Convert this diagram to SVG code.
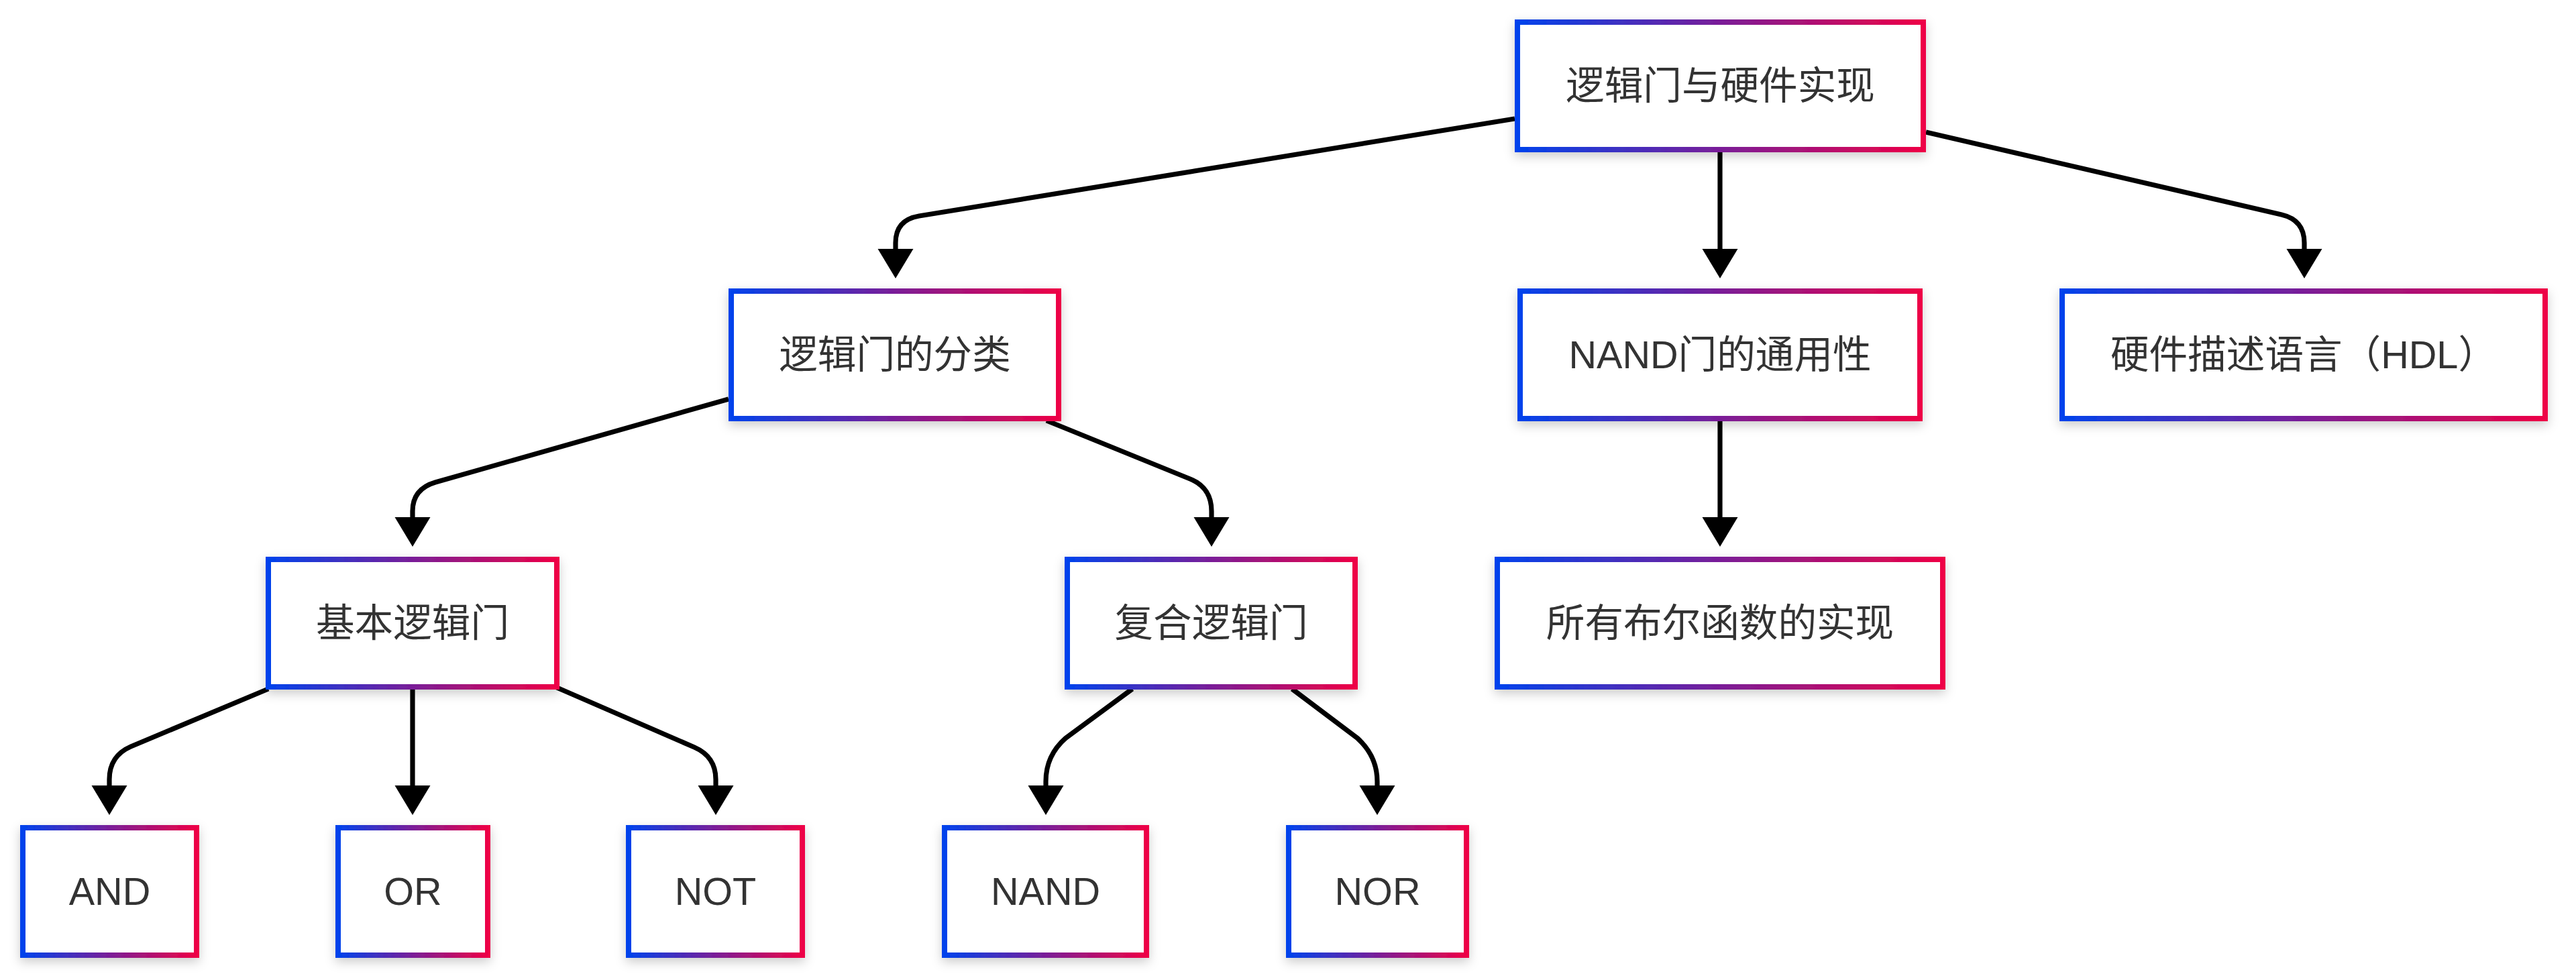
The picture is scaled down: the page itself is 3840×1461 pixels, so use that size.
<svg xmlns="http://www.w3.org/2000/svg" width="3840" height="1461" viewBox="0 0 3840 1461">
<defs>
<linearGradient id="g" x1="0" y1="0" x2="1" y2="0">
<stop offset="0" stop-color="#0043EC"/>
<stop offset="0.5" stop-color="#7A1E98"/>
<stop offset="1" stop-color="#EE0046"/>
</linearGradient>
<filter id="sh" x="-20%" y="-30%" width="140%" height="170%">
<feDropShadow dx="0" dy="6" stdDeviation="8" flood-color="#000" flood-opacity="0.2"/>
</filter>
<marker id="arr" markerUnits="userSpaceOnUse" markerWidth="46" markerHeight="54" refX="2" refY="26.5" orient="auto">
<path d="M0,0 L44,26.5 L0,53 z" fill="#000"/>
</marker>
</defs>
<style>
.n rect{fill:#fff;stroke:url(#g);stroke-width:8;filter:url(#sh)}
.n text{font-family:"Liberation Sans","Noto Sans CJK SC",sans-serif;font-size:57.6px;fill:#333;text-anchor:middle}
.e path{fill:none;stroke:#000;stroke-width:7.2;marker-end:url(#arr)}
</style>
<rect width="3840" height="1461" fill="#fff"/>
<g id="connectors" class="e">
<path d="M2258,177 L1370,322 Q1335,328 1335,362 L1335,373"/>
<path d="M2564,227 L2564,373"/>
<path d="M2871,197 L3401,320 Q3435,328 3435,362 L3435,373"/>
<path d="M1086,595 L649,719 Q615,729 615,762 L615,773"/>
<path d="M1560,627 L1774,714 Q1806,727 1806,762 L1806,773"/>
<path d="M2564,627 L2564,773"/>
<path d="M400,1027 L195,1113 Q163,1127 163,1162 L163,1173"/>
<path d="M615,1027 L615,1173"/>
<path d="M830,1025 L1035,1114 Q1067,1128 1067,1162 L1067,1173"/>
<path d="M1688,1027 L1589,1100 Q1559,1126 1559,1165 L1559,1173"/>
<path d="M1926,1027 L2023,1100 Q2053,1127 2053,1165 L2053,1173"/>
</g>
<g id="root" class="n"><rect x="2262" y="33" width="605" height="190"/><text x="2564.5" y="148">逻辑门与硬件实现</text></g>
<g id="classify" class="n"><rect x="1090" y="434" width="488" height="190"/><text x="1334" y="549">逻辑门的分类</text></g>
<g id="nand-universal" class="n"><rect x="2266" y="434" width="596" height="190"/><text x="2564" y="549">NAND门的通用性</text></g>
<g id="hdl" class="n"><rect x="3074" y="434" width="720" height="190"/><text x="3434" y="549">硬件描述语言（HDL）</text></g>
<g id="basic" class="n"><rect x="400" y="834" width="430" height="190"/><text x="615" y="949">基本逻辑门</text></g>
<g id="compound" class="n"><rect x="1591" y="834" width="429" height="190"/><text x="1805.5" y="949">复合逻辑门</text></g>
<g id="all-boolean" class="n"><rect x="2232" y="834" width="664" height="190"/><text x="2564" y="949">所有布尔函数的实现</text></g>
<g id="and" class="n"><rect x="34" y="1234" width="259" height="190"/><text x="163.5" y="1349">AND</text></g>
<g id="or" class="n"><rect x="504" y="1234" width="223" height="190"/><text x="615.5" y="1349">OR</text></g>
<g id="not" class="n"><rect x="937" y="1234" width="259" height="190"/><text x="1066.5" y="1349">NOT</text></g>
<g id="nand" class="n"><rect x="1408" y="1234" width="301" height="190"/><text x="1558.5" y="1349">NAND</text></g>
<g id="nor" class="n"><rect x="1921" y="1234" width="265" height="190"/><text x="2053.5" y="1349">NOR</text></g>
</svg>
